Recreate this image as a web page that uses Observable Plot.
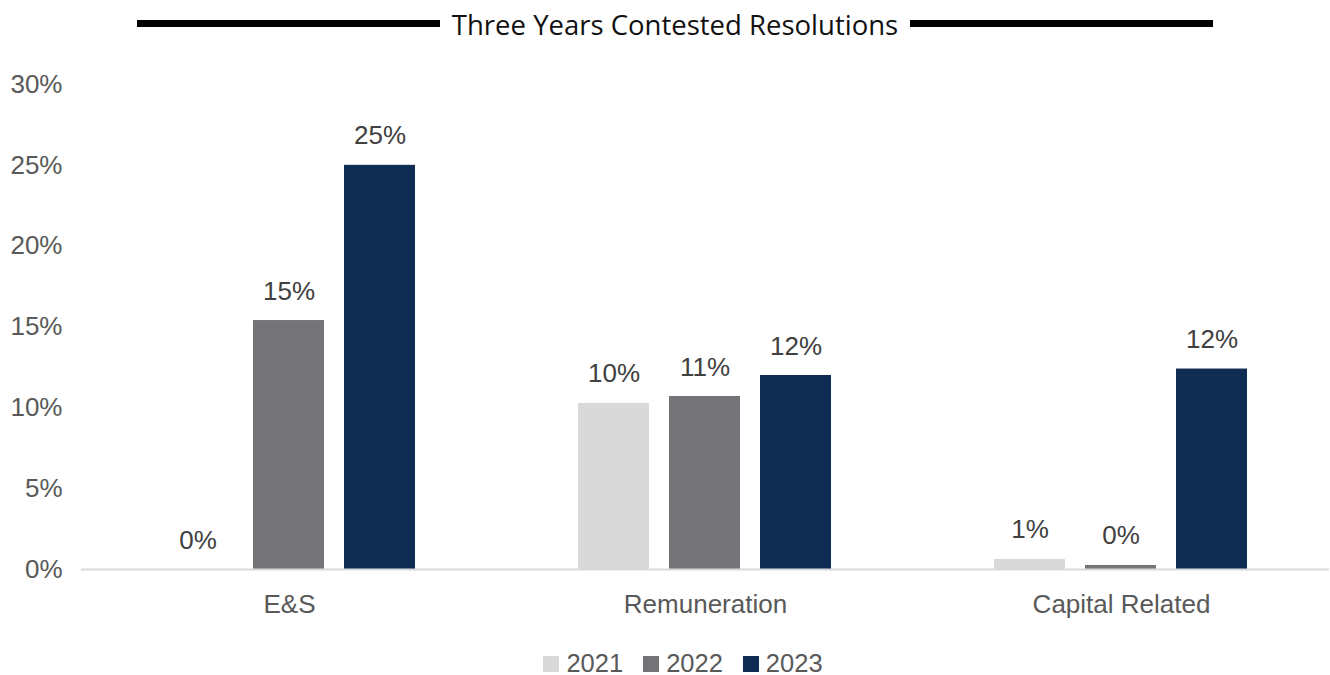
<!DOCTYPE html>
<html>
<head>
<meta charset="utf-8">
<script src="https://cdn.jsdelivr.net/npm/d3@7"></script>
<script src="https://cdn.jsdelivr.net/npm/@observablehq/plot@0.6"></script>
<style>
  body { margin: 0; background: #fff; width: 1330px; height: 675px; overflow: hidden; }
  #title { position: relative; height: 50px; width: 1330px; }
  #title .wrap { position: absolute; left: 137px; width: 1076px; top: 0; height: 50px; display: flex; align-items: center; }
  #title .line { flex: 1; height: 7px; background: #000; margin-top: -3px; }
  #title .txt { font-family: "Open Sans", "Noto Sans", sans-serif; font-size: 27.5px; color: #111; padding: 0 12px; margin-top: -2px; white-space: nowrap; }
  #legend { height: 35px; width: 1330px; display: flex; justify-content: center; align-items: center; box-sizing: border-box; padding-left: 36px; padding-top: 12px;
            font-family: "Liberation Sans", Arial, sans-serif; font-size: 25.5px; color: #595959; }
  #legend .item { display: flex; align-items: center; margin: 0 10px; }
  #legend .sw { width: 16px; height: 16px; margin-right: 7px; margin-top: 1px; }
  #chart svg { display: block; }
</style>
</head>
<body>
<div id="title"><div class="wrap"><div class="line"></div><div class="txt">Three Years Contested Resolutions</div><div class="line"></div></div></div>
<div id="chart"></div>
<div id="legend"></div>
<script>
const categories = ["E&S", "Remuneration", "Capital Related"];
const years = ["2021", "2022", "2023"];
const values2021 = [0, 10.27, 0.62];
const values2022 = [15.4, 10.7, 0.25];
const values2023 = [25.0, 12.0, 12.4];
const yTicks = [0, 5, 10, 15, 20, 25, 30];
const yearColors = ["#d9d9d9", "#747378", "#0f2d52"];

const seriesByYear = [values2021, values2022, values2023];
const data = [];
categories.forEach((c, i) => {
  years.forEach((y, j) => {
    data.push({category: c, year: y, value: seriesByYear[j][i]});
  });
});

const chart = Plot.plot({
  width: 1330,
  height: 590,
  marginLeft: 81,
  marginRight: 1,
  marginTop: 34,
  marginBottom: 71,
  style: {fontFamily: "'Liberation Sans', Arial, sans-serif", fontSize: "26px", color: "#595959", background: "#fff"},
  fx: {domain: categories, padding: 0, label: null},
  x: {domain: years, paddingInner: 0.217, paddingOuter: 0.87, axis: null},
  y: {domain: [0, 30], label: null},
  color: {domain: years, range: yearColors},
  marks: [
    Plot.axisY({ticks: yTicks, tickFormat: d => d + "%", tickSize: 0, tickPadding: 19, label: null, fontSize: 26}),
    Plot.axisFx({anchor: "bottom", tickSize: 0, tickPadding: 25, label: null, fontSize: 26}),
    Plot.barY(data, {fx: "category", x: "year", y: "value", fill: "year"}),
    Plot.ruleY([0], {stroke: "#d9d9d9", strokeWidth: 2}),
    Plot.text(data, {fx: "category", x: "year", y: "value", text: d => Math.round(d.value) + "%",
      lineAnchor: "bottom", dy: -21, fill: "#404040", fontSize: 26})
  ]
});
document.getElementById("chart").appendChild(chart);

const legend = document.getElementById("legend");
years.forEach((y, i) => {
  const item = document.createElement("div");
  item.className = "item";
  const sw = document.createElement("div");
  sw.className = "sw";
  sw.style.background = yearColors[i];
  const t = document.createElement("span");
  t.textContent = y;
  item.appendChild(sw);
  item.appendChild(t);
  legend.appendChild(item);
});
</script>
</body>
</html>
